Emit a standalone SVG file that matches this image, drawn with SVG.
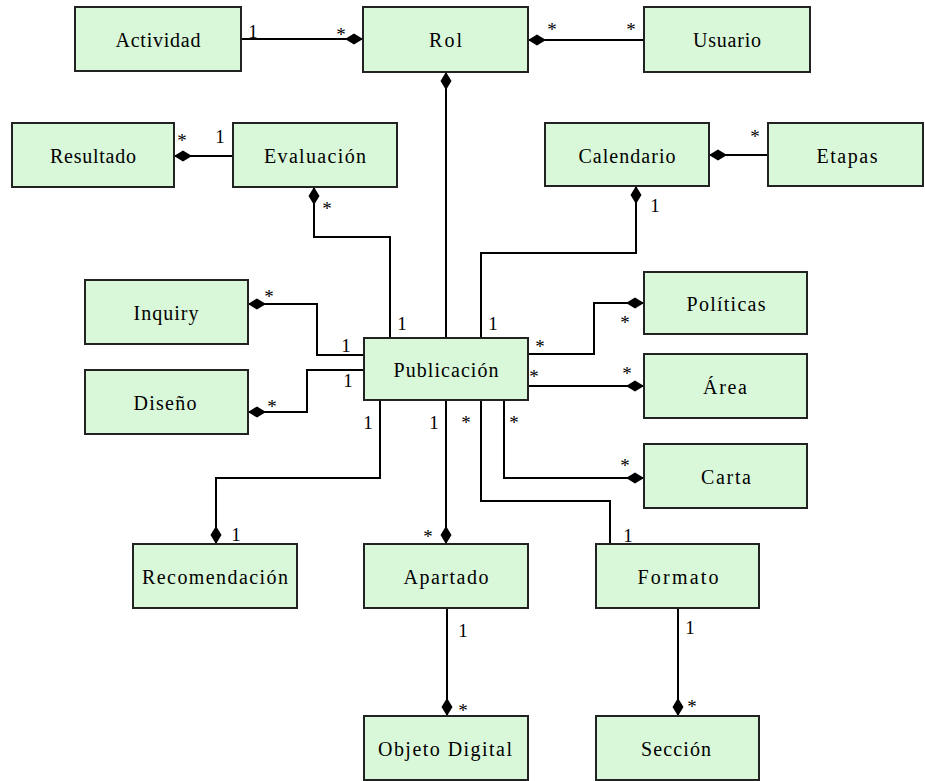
<svg xmlns="http://www.w3.org/2000/svg" width="925" height="781" viewBox="0 0 925 781">
<style>
.box{fill:#d9f7d9;stroke:#222;stroke-width:2}
.t{font-family:"Liberation Serif",serif;font-size:20px;fill:#000;text-anchor:middle}
.m{font-family:"Liberation Serif",serif;font-size:19px;fill:#000;text-anchor:middle}
.c{fill:none;stroke:#000;stroke-width:2}
.d{marker-start:url(#dia)}
</style>
<defs>
<marker id="dia" markerUnits="userSpaceOnUse" markerWidth="18" markerHeight="12" refX="0" refY="6" orient="auto" viewBox="0 0 18 12" overflow="visible">
<path d="M0,6 L9,0.5 L18,6 L9,11.5 Z" fill="#000"/>
</marker>
</defs>
<rect width="925" height="781" fill="#fff"/>
<g id="connectors">
<path class="c d" d="M363,39 L241,39"/>
<path class="c d" d="M528,40 L644,40"/>
<path class="c d" d="M446,72 L446,338"/>
<path class="c d" d="M174,156 L233,156"/>
<path class="c d" d="M314,187 L314,237 L390,237 L390,338"/>
<path class="c d" d="M709,155 L768,155"/>
<path class="c d" d="M636,186 L636,253 L481,253 L481,338"/>
<path class="c d" d="M248,304 L317,304 L317,355 L364,355"/>
<path class="c d" d="M248,412 L307,412 L307,370 L364,370"/>
<path class="c d" d="M644,303 L594,303 L594,354 L528,354"/>
<path class="c d" d="M644,386 L528,386"/>
<path class="c d" d="M644,478 L504,478 L504,400"/>
<path class="c" d="M481,400 L481,501 L610,501 L610,544"/>
<path class="c d" d="M446,544 L446,400"/>
<path class="c d" d="M216,544 L216,478 L380,478 L380,400"/>
<path class="c d" d="M447,716 L447,608"/>
<path class="c d" d="M678,716 L678,608"/>
<g id="labels">
<text class="m" x="253" y="38">1</text>
<text class="m" x="341" y="41">*</text>
<text class="m" x="552" y="36">*</text>
<text class="m" x="631" y="36">*</text>
<text class="m" x="182" y="147">*</text>
<text class="m" x="220" y="143">1</text>
<text class="m" x="327" y="215">*</text>
<text class="m" x="402" y="330">1</text>
<text class="m" x="755" y="143">*</text>
<text class="m" x="655" y="212">1</text>
<text class="m" x="493" y="330">1</text>
<text class="m" x="269" y="303">*</text>
<text class="m" x="346" y="352">1</text>
<text class="m" x="348" y="387">1</text>
<text class="m" x="272" y="413">*</text>
<text class="m" x="540" y="353">*</text>
<text class="m" x="625" y="329">*</text>
<text class="m" x="534" y="383">*</text>
<text class="m" x="627" y="380">*</text>
<text class="m" x="368" y="429">1</text>
<text class="m" x="434" y="429">1</text>
<text class="m" x="466" y="429">*</text>
<text class="m" x="514" y="429">*</text>
<text class="m" x="625" y="472">*</text>
<text class="m" x="236" y="541">1</text>
<text class="m" x="428" y="543">*</text>
<text class="m" x="628" y="542">1</text>
<text class="m" x="463" y="637">1</text>
<text class="m" x="463" y="717">*</text>
<text class="m" x="690" y="634">1</text>
<text class="m" x="692" y="713">*</text>
</g>
</g>
<g id="actividad"><rect class="box" x="75" y="7" width="166" height="64"/><text class="t" x="158" y="47" textLength="85" lengthAdjust="spacing">Actividad</text></g>
<g id="rol"><rect class="box" x="363" y="7" width="165" height="65"/><text class="t" x="445.5" y="47" textLength="33" lengthAdjust="spacing">Rol</text></g>
<g id="usuario"><rect class="box" x="644" y="7" width="166" height="65"/><text class="t" x="727" y="47" textLength="68" lengthAdjust="spacing">Usuario</text></g>
<g id="resultado"><rect class="box" x="12" y="123" width="162" height="64"/><text class="t" x="93" y="163" textLength="86" lengthAdjust="spacing">Resultado</text></g>
<g id="evaluacion"><rect class="box" x="233" y="123" width="164" height="64"/><text class="t" x="315" y="163" textLength="102" lengthAdjust="spacing">Evaluación</text></g>
<g id="calendario"><rect class="box" x="545" y="123" width="164" height="63"/><text class="t" x="627" y="163" textLength="97" lengthAdjust="spacing">Calendario</text></g>
<g id="etapas"><rect class="box" x="768" y="123" width="155" height="63"/><text class="t" x="847" y="163" textLength="61" lengthAdjust="spacing">Etapas</text></g>
<g id="inquiry"><rect class="box" x="85" y="280" width="163" height="64"/><text class="t" x="166" y="320" textLength="65" lengthAdjust="spacing">Inquiry</text></g>
<g id="diseno"><rect class="box" x="85" y="370" width="163" height="64"/><text class="t" x="165" y="410" textLength="63" lengthAdjust="spacing">Diseño</text></g>
<g id="publicacion"><rect class="box" x="364" y="338" width="164" height="62"/><text class="t" x="446" y="377" textLength="105" lengthAdjust="spacing">Publicación</text></g>
<g id="politicas"><rect class="box" x="644" y="272" width="163" height="62"/><text class="t" x="726" y="311" textLength="79" lengthAdjust="spacing">Políticas</text></g>
<g id="area"><rect class="box" x="644" y="354" width="163" height="64"/><text class="t" x="725" y="394" textLength="44" lengthAdjust="spacing">Área</text></g>
<g id="carta"><rect class="box" x="644" y="444" width="163" height="64"/><text class="t" x="726" y="484" textLength="50" lengthAdjust="spacing">Carta</text></g>
<g id="recomendacion"><rect class="box" x="133" y="544" width="164" height="64"/><text class="t" x="215" y="584" textLength="146" lengthAdjust="spacing">Recomendación</text></g>
<g id="apartado"><rect class="box" x="364" y="544" width="164" height="64"/><text class="t" x="446" y="584" textLength="85" lengthAdjust="spacing">Apartado</text></g>
<g id="formato"><rect class="box" x="596" y="544" width="163" height="64"/><text class="t" x="678" y="584" textLength="81" lengthAdjust="spacing">Formato</text></g>
<g id="objeto"><rect class="box" x="364" y="716" width="164" height="64"/><text class="t" x="445" y="756" textLength="134" lengthAdjust="spacing">Objeto Digital</text></g>
<g id="seccion"><rect class="box" x="596" y="716" width="163" height="64"/><text class="t" x="676" y="756" textLength="70" lengthAdjust="spacing">Sección</text></g>
</svg>
